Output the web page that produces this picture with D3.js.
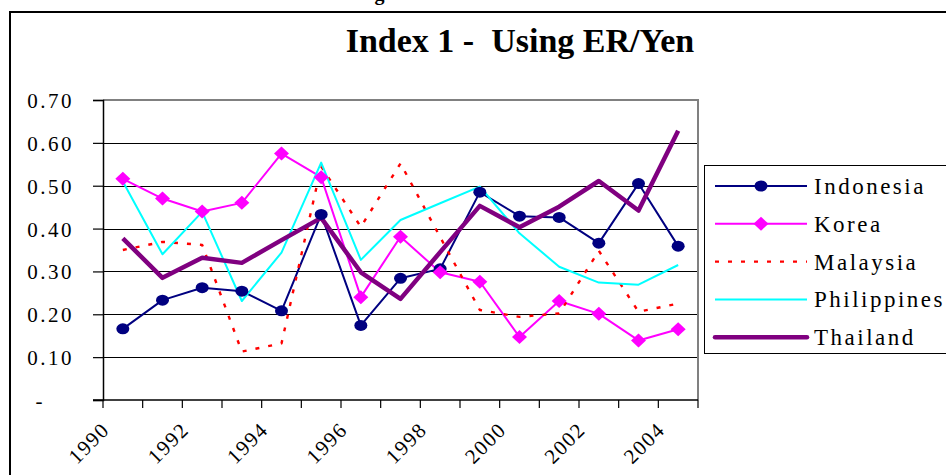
<!DOCTYPE html>
<html>
<head>
<meta charset="utf-8">
<script src="https://cdn.jsdelivr.net/npm/d3@7"></script>
<style>
  html, body { margin: 0; padding: 0; background: #fff; }
  svg { display: block; font-family: 'Liberation Serif', 'Times New Roman', serif; }
</style>
</head>
<body>
<div class="container"></div>
<script>
'use strict'

const years = [1990, 1991, 1992, 1993, 1994, 1995, 1996, 1997, 1998, 1999, 2000, 2001, 2002, 2003, 2004]
const yearLabels = ['1990', '1992', '1994', '1996', '1998', '2000', '2002', '2004']

const indonesia = [0.166, 0.233, 0.262, 0.254, 0.208, 0.433, 0.174, 0.284, 0.306, 0.485, 0.429, 0.426, 0.366, 0.505, 0.359]
const korea = [0.516, 0.470, 0.440, 0.460, 0.575, 0.520, 0.240, 0.381, 0.298, 0.276, 0.147, 0.231, 0.201, 0.139, 0.165]
const malaysia = [0.350, 0.369, 0.362, 0.113, 0.132, 0.545, 0.404, 0.552, 0.380, 0.210, 0.194, 0.202, 0.348, 0.206, 0.225]
const philippines = [0.510, 0.340, 0.439, 0.231, 0.344, 0.554, 0.327, 0.420, 0.459, 0.498, 0.389, 0.311, 0.274, 0.269, 0.315]
const thailand = [0.377, 0.285, 0.332, 0.320, 0.373, 0.425, 0.298, 0.236, 0.345, 0.453, 0.403, 0.451, 0.511, 0.442, 0.628]

const yTickValues = [0, 0.1, 0.2, 0.3, 0.4, 0.5, 0.6, 0.7]
const yTickLabels = ['-', '0.10', '0.20', '0.30', '0.40', '0.50', '0.60', '0.70']

const series = [
  { name: 'Indonesia', values: indonesia, color: '#000080', width: 2, marker: 'circle' },
  { name: 'Korea', values: korea, color: '#ff00ff', width: 2, marker: 'diamond' },
  { name: 'Malaysia', values: malaysia, color: '#ff0000', width: 2.4, dash: '4,9' },
  { name: 'Philippines', values: philippines, color: '#00ffff', width: 2 },
  { name: 'Thailand', values: thailand, color: '#800080', width: 4.5 }
]

const W = 946
const H = 475
const plot = { left: 103, right: 698, top: 100, bottom: 400 }

const svg = d3.select('.container').append('svg')
  .attr('width', W)
  .attr('height', H)

svg.append('rect').attr('width', W).attr('height', H).attr('fill', '#fff')

// outer chart frame (runs off the right and bottom edges)
svg.append('rect')
  .attr('x', 10).attr('y', 12)
  .attr('width', 980).attr('height', 520)
  .attr('fill', 'none')
  .attr('stroke', '#000')
  .attr('stroke-width', 2)

// caption fragment above the frame, mostly cut off in the source too
svg.append('text')
  .attr('x', 385).attr('y', 0)
  .style('font-size', '20px')
  .style('font-weight', 'bold')
  .attr('text-anchor', 'middle')
  .text('Figure')

svg.append('text')
  .attr('x', 520).attr('y', 52)
  .attr('text-anchor', 'middle')
  .style('font-size', '34px')
  .style('font-weight', 'bold')
  .style('white-space', 'pre')
  .text('Index 1 -  Using ER/Yen')

const x = d3.scaleBand()
  .domain(years)
  .range([plot.left, plot.right])

const y = d3.scaleLinear()
  .domain([0, 0.7])
  .range([plot.bottom, plot.top])

const cx = d => x(d) + x.bandwidth() / 2

// gridlines
svg.append('g')
  .selectAll('line')
  .data(yTickValues.filter(v => v > 0 && v < 0.7))
  .enter()
  .append('line')
    .attr('x1', plot.left).attr('x2', plot.right)
    .attr('y1', d => Math.round(y(d)) + 0.5).attr('y2', d => Math.round(y(d)) + 0.5)
    .attr('stroke', '#000')
    .attr('stroke-width', 1)

// plot area border (top and right in grey)
svg.append('path')
  .attr('d', `M${plot.left},${plot.top}H${plot.right}V${plot.bottom}`)
  .attr('fill', 'none')
  .attr('stroke', '#808080')
  .attr('stroke-width', 2)

// y axis
const yAxis = svg.append('g')
  .attr('transform', `translate(${plot.left},0)`)
  .call(d3.axisLeft(y).tickValues(yTickValues).tickSize(10).tickFormat(''))
yAxis.select('.domain').attr('stroke', '#000').attr('stroke-width', 1.5)
yAxis.selectAll('.tick line').attr('stroke', '#000').attr('stroke-width', 1.2)

svg.append('g')
  .selectAll('text')
  .data(yTickValues)
  .enter()
  .append('text')
    .attr('x', (d, i) => yTickLabels[i] === '-' ? 45 : 74)
    .attr('y', d => y(d) + 8)
    .attr('text-anchor', 'end')
    .style('font-size', '21px')
    .style('letter-spacing', '2.5px')
    .text((d, i) => yTickLabels[i])

// x axis
const xAxis = svg.append('g')
  .attr('transform', `translate(0,${plot.bottom})`)
  .call(d3.axisBottom(x).tickSize(0).tickFormat(''))
xAxis.select('.domain').attr('stroke', '#000').attr('stroke-width', 1.5)
  .attr('d', `M${plot.left - 10},0H${plot.right}`)

svg.append('g')
  .selectAll('line')
  .data(years.concat([null]))
  .enter()
  .append('line')
    .attr('x1', (d, i) => plot.left + i * x.step())
    .attr('x2', (d, i) => plot.left + i * x.step())
    .attr('y1', plot.bottom).attr('y2', plot.bottom + 8)
    .attr('stroke', '#000')
    .attr('stroke-width', 1.2)

svg.append('g')
  .selectAll('text')
  .data(yearLabels)
  .enter()
  .append('text')
    .attr('transform', d => `translate(${cx(+d) - 12},${plot.bottom + 31}) rotate(-45)`)
    .attr('text-anchor', 'end')
    .style('font-size', '21px')
    .style('letter-spacing', '1.5px')
    .text(d => d)

// series lines
const line = d3.line()
  .x((d, i) => cx(years[i]))
  .y(d => y(d))

svg.append('g')
  .selectAll('path')
  .data(series)
  .enter()
  .append('path')
    .attr('d', d => line(d.values))
    .attr('fill', 'none')
    .attr('stroke', d => d.color)
    .attr('stroke-width', d => d.width)
    .attr('stroke-dasharray', d => d.dash || null)
    .attr('stroke-linejoin', 'round')

// markers on top of every line
const diamond = 'M0,-7L7.5,0L0,7L-7.5,0Z'

series.filter(s => s.marker).forEach(function (s) {
  const pts = svg.append('g').selectAll('.m')
    .data(s.values)
    .enter()
  if (s.marker === 'circle') {
    pts.append('ellipse')
      .attr('cx', (d, i) => cx(years[i]))
      .attr('cy', d => y(d))
      .attr('rx', 6.5).attr('ry', 5.5)
      .attr('fill', s.color)
  } else {
    pts.append('path')
      .attr('transform', (d, i) => `translate(${cx(years[i])},${y(d)})`)
      .attr('d', diamond)
      .attr('fill', s.color)
  }
})

// legend
const legend = svg.append('g')
legend.append('rect')
  .attr('x', 704.5).attr('y', 165.5)
  .attr('width', 250).attr('height', 188)
  .attr('fill', '#fff')
  .attr('stroke', '#000')
  .attr('stroke-width', 1)

const items = legend.selectAll('.item')
  .data(series)
  .enter()
  .append('g')
    .attr('class', 'item')
    .attr('transform', (d, i) => `translate(0,${186 + i * 37.8})`)

items.append('line')
  .attr('x1', 715).attr('x2', 807)
  .attr('stroke', d => d.color)
  .attr('stroke-width', d => d.width)
  .attr('stroke-dasharray', d => d.dash || null)
  .attr('stroke-linecap', d => d.width > 3 ? 'round' : 'butt')

items.filter(d => d.marker === 'circle').append('ellipse')
  .attr('cx', 761).attr('rx', 6.5).attr('ry', 5.5)
  .attr('fill', d => d.color)

items.filter(d => d.marker === 'diamond').append('path')
  .attr('transform', 'translate(761,0)')
  .attr('d', diamond)
  .attr('fill', d => d.color)

items.append('text')
  .attr('x', 814).attr('y', 8)
  .style('font-size', '23px')
  .style('letter-spacing', '2.5px')
  .text(d => d.name)
</script>
</body>
</html>
